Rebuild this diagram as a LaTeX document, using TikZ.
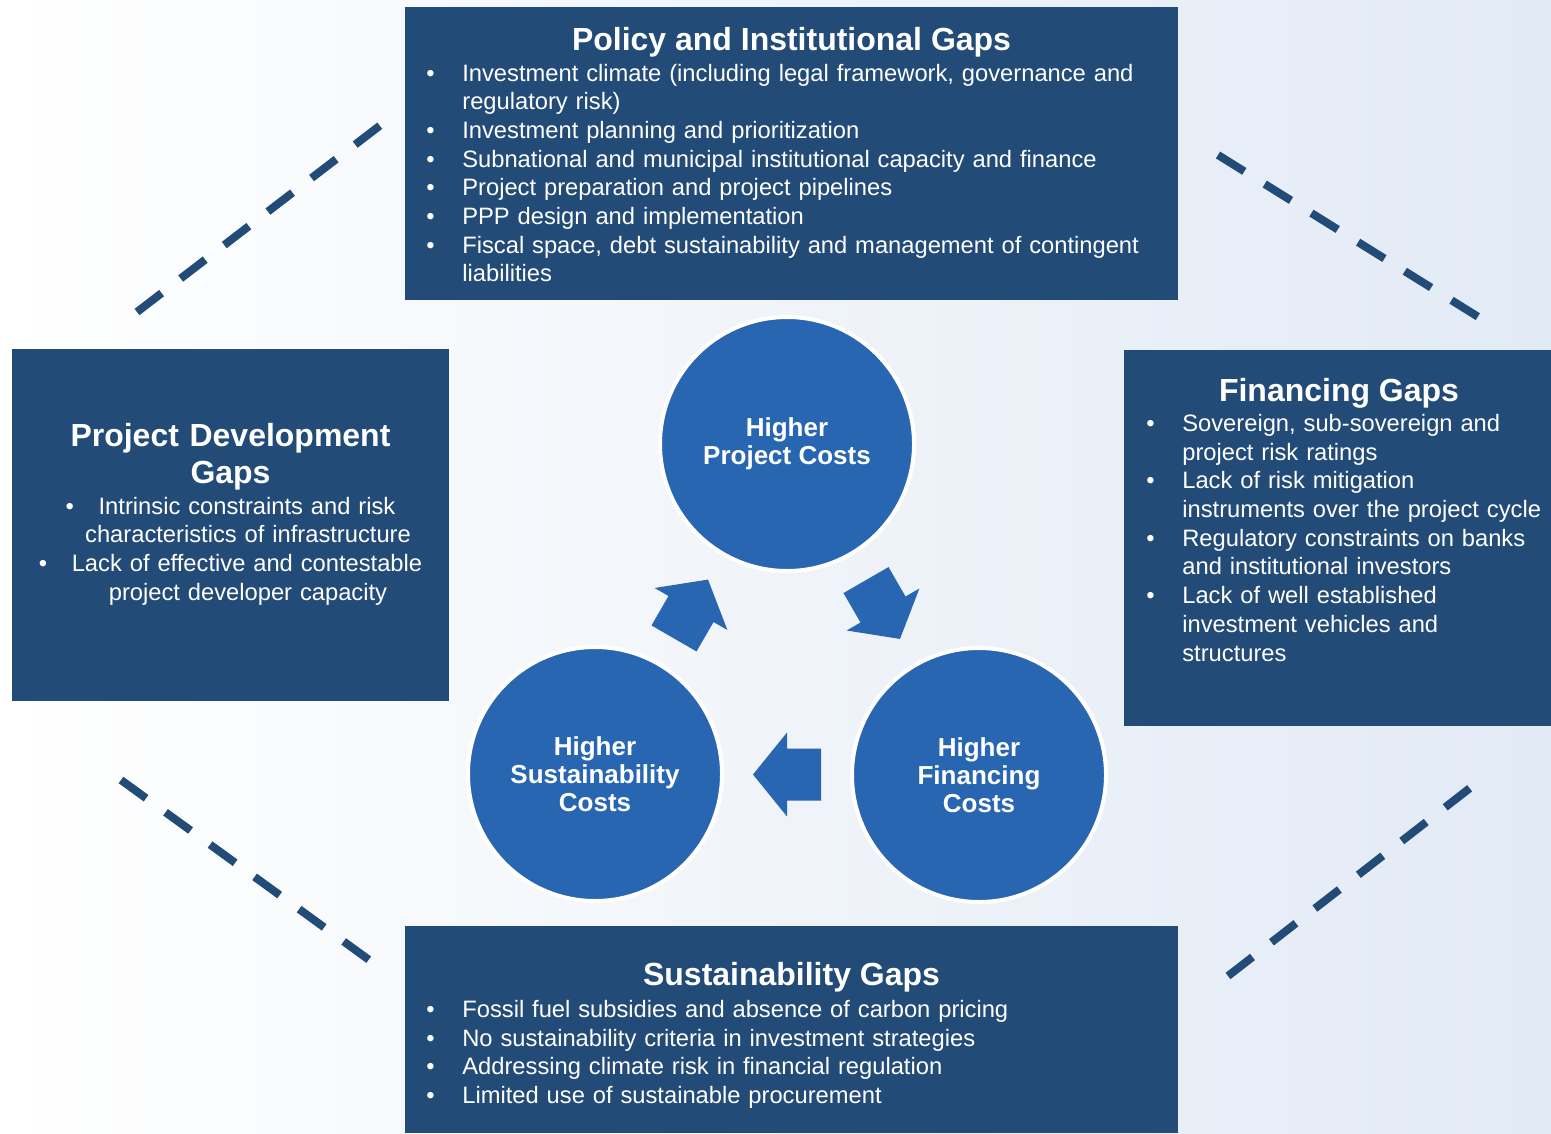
\documentclass[tikz,border=0pt]{standalone}
\usepackage{fontspec}
\setmainfont{Liberation Sans}
\usetikzlibrary{calc,positioning}
\definecolor{gapblue}{HTML}{234B77}
\definecolor{circblue}{HTML}{2866B1}
\definecolor{bgblue}{HTML}{E2EAF5}
\newcommand{\gapitem}[1]{\hangindent=7.2mm\hangafter=1\noindent\makebox[7.2mm][l]{\textbullet}#1\par}
\newcommand{\costarrow}{\fill[circblue] (-34,-26) -- (0,-26) -- (0,-42) -- (34,0) -- (0,42) -- (0,26) -- (-34,26) -- cycle;}
\tikzset{
	gapbox/.style={fill=gapblue, inner sep=0pt},
	gaptitle/.style={text=white, inner sep=0pt, font=\fontsize{18.2pt}{21.06pt}\selectfont\bfseries},
	gaplist/.style={text=white, inner sep=0pt, align=left, font=\fontsize{13.5pt}{16.33pt}\selectfont},
	costcircle/.style={circle, fill=circblue, draw=white, line width=0.8mm, minimum size=50.8mm,
		text=white, align=center, font=\fontsize{14.8pt}{15.82pt}\selectfont\bfseries},
	gapdash/.style={draw=gapblue, line width=1.6mm, dash pattern=on 6.2mm off 4.8mm}
}

\begin{document}
\begin{tikzpicture}[x=0.2mm, y=-0.2mm]

	\useasboundingbox (0,0) rectangle (1551,1133);
	\shade[left color=white, right color=bgblue] (0,0) rectangle (1551,1133);

	\node[gapbox, minimum width=154.6mm, minimum height=58.6mm] (policy) at (791.5,153.5) {};
	\node[gapbox, minimum width=87.4mm, minimum height=70.4mm] (projdev) at (230.5,525) {};
	\node[gapbox, minimum width=85.4mm, minimum height=75.2mm] (financing) at (1337.5,538) {};
	\node[gapbox, minimum width=154.6mm, minimum height=41.4mm] (sustain) at (791.5,1029.5) {};

	\node[gaptitle, anchor=base] (policy-title) at (791.5,50) {Policy and Institutional Gaps};
	\node[gaplist, anchor=base west, text width=150mm] (policy-list) at (426,81) {%
		\gapitem{Investment climate (including legal framework, governance and\newline regulatory risk)}%
		\gapitem{Investment planning and prioritization}%
		\gapitem{Subnational and municipal institutional capacity and finance}%
		\gapitem{Project preparation and project pipelines}%
		\gapitem{PPP design and implementation}%
		\gapitem{Fiscal space, debt sustainability and management of contingent\newline liabilities}};

	\node[gaptitle, anchor=base, text width=87.4mm, align=center] (projdev-title) at (230.5,446) {Project Development\\Gaps};
	\node[gaplist, anchor=base, text width=87.4mm, align=center] (projdev-list) at (230.5,514) {%
		\makebox[6.6mm][l]{\textbullet}Intrinsic constraints and risk\\
		\hspace*{7mm}characteristics of infrastructure\\
		\makebox[6.6mm][l]{\textbullet}Lack of effective and contestable\\
		\hspace*{7mm}project developer capacity};

	\node[gaptitle, anchor=base] (financing-title) at (1339,401.5) {Financing Gaps};
	\node[gaplist, anchor=base west, text width=82mm] (financing-list) at (1146,431.5) {%
		\gapitem{Sovereign, sub-sovereign and\newline project risk ratings}%
		\gapitem{Lack of risk mitigation\newline instruments over the project cycle}%
		\gapitem{Regulatory constraints on banks\newline and institutional investors}%
		\gapitem{Lack of well established\newline investment vehicles and\newline structures}};

	\node[gaptitle, anchor=base] (sustain-title) at (791.5,985) {Sustainability Gaps};
	\node[gaplist, anchor=base west, text width=150mm] (sustain-list) at (426,1017.5) {%
		\gapitem{Fossil fuel subsidies and absence of carbon pricing}%
		\gapitem{No sustainability criteria in investment strategies}%
		\gapitem{Addressing climate risk in financial regulation}%
		\gapitem{Limited use of sustainable procurement}};

	\node[costcircle] (hpc) at (787,444) {Higher\\Project Costs};
	\node[costcircle] (hfc) at (979,775) {Higher\\Financing\\Costs};
	\node[costcircle] (hsc) at (595,774) {Higher\\Sustainability\\Costs};

	\begin{scope}[shift={($(hsc)!0.5!(hpc)$)}, rotate=60]
		\costarrow
	\end{scope}

	\begin{scope}[shift={($(hpc)!0.5!(hfc)$)}, rotate=-60]
		\costarrow
	\end{scope}

	\begin{scope}[shift={($(hfc)!0.5!(hsc)$)}, rotate=180]
		\costarrow
	\end{scope}

	\coordinate (ul-a) at (137,312);
	\coordinate (ul-b) at (382,124);
	\coordinate (ur-a) at (1218,155);
	\coordinate (ur-b) at (1480,318);
	\coordinate (ll-a) at (121,780);
	\coordinate (ll-b) at (372,962);
	\coordinate (lr-a) at (1228,976);
	\coordinate (lr-b) at (1470,788);

	\draw[gapdash] (ul-a) -- (ul-b);
	\draw[gapdash] (ur-a) -- (ur-b);
	\draw[gapdash] (ll-a) -- (ll-b);
	\draw[gapdash] (lr-a) -- (lr-b);

\end{tikzpicture}
\end{document}
